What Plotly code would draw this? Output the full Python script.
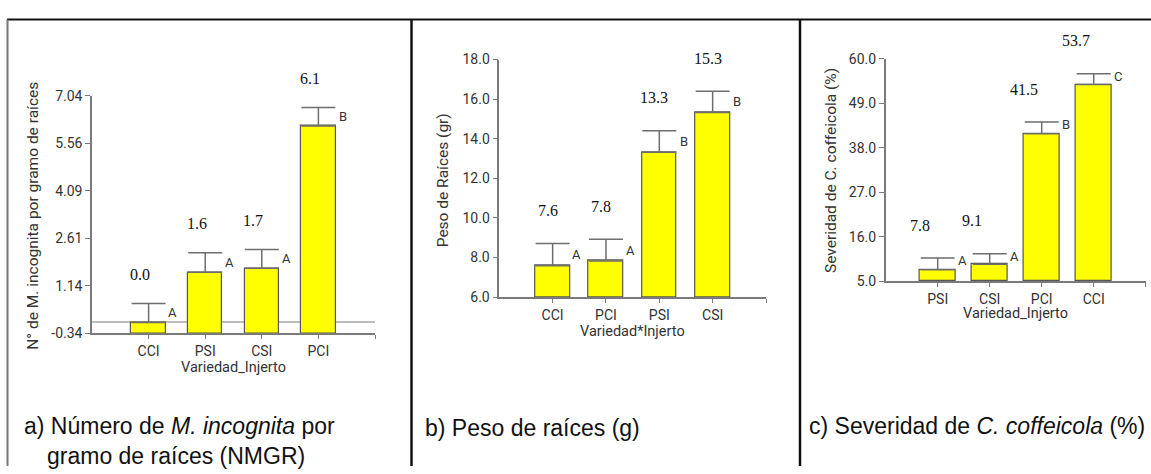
import plotly.graph_objects as go

W, H = 1151, 474

# ---------------- data ----------------
# Panel a: N° de M. incognita por gramo de raíces
cats_a = ["CCI", "PSI", "CSI", "PCI"]
vals_a = [0.0, 1.56, 1.68, 6.10]
errs_a = [0.59, 0.60, 0.58, 0.57]
letters_a = ["A", "A", "A", "B"]
labels_a = ["0.0", "1.6", "1.7", "6.1"]
yticks_a = [-0.34, 1.14, 2.61, 4.09, 5.56, 7.04]
yticktext_a = ["-0.34", "1.14", "2.61", "4.09", "5.56", "7.04"]

# Panel b: Peso de raíces (gr)
cats_b = ["CCI", "PCI", "PSI", "CSI"]
vals_b = [7.59, 7.83, 13.32, 15.32]
errs_b = [1.12, 1.10, 1.08, 1.08]
letters_b = ["A", "A", "B", "B"]
labels_b = ["7.6", "7.8", "13.3", "15.3"]
yticks_b = [6.0, 8.0, 10.0, 12.0, 14.0, 16.0, 18.0]
yticktext_b = ["6.0", "8.0", "10.0", "12.0", "14.0", "16.0", "18.0"]

# Panel c: Severidad de C. coffeicola (%)
cats_c = ["PSI", "CSI", "PCI", "CCI"]
vals_c = [7.8, 9.16, 41.46, 53.66]
errs_c = [2.9, 2.6, 2.9, 2.7]
letters_c = ["A", "A", "B", "C"]
labels_c = ["7.8", "9.1", "41.5", "53.7"]
yticks_c = [5.0, 16.0, 27.0, 38.0, 49.0, 60.0]
yticktext_c = ["5.0", "16.0", "27.0", "38.0", "49.0", "60.0"]

captions = {
    "a": "a) Número de <i>M. incognita</i> por<br>\u2002\u2002gramo de raíces (NMGR)",
    "b": "b) Peso de raíces (g)",
    "c": "c) Severidad de <i>C. coffeicola</i> (%)",
}

# ---------------- helpers ----------------
def px(x):
    return x / W

def py(y):
    return 1 - y / H

AX_COL = "#7a7a7a"
TXT_COL = "#333333"
SANS = "Roboto, Arial, sans-serif"
SERIF = "Liberation Serif, Times New Roman, serif"
CAP = "Liberation Sans, Arial, sans-serif"

panels = [
    dict(cats=cats_a, vals=vals_a, errs=errs_a, letters=letters_a, labels=labels_a,
         yt=yticks_a, ytt=yticktext_a, xdom=(92, 375), ydom=(90.7, 336.7),
         width=0.61, lab_dx=-8.5, lab_dy=29, letter_mode="mid", zero=True,
         ytitle="N° de M. incognita por gramo de raíces", ytpos=(33, 215),
         xtitle="Variedad_Injerto", xtpos=(233, 372)),
    dict(cats=cats_b, vals=vals_b, errs=errs_b, letters=letters_b, labels=labels_b,
         yt=yticks_b, ytt=yticktext_b, xdom=(499.3, 766), ydom=(53.3, 299.3),
         width=0.65, lab_dx=-5, lab_dy=33, letter_mode="mid", zero=False,
         ytitle="Peso de Raíces (gr)", ytpos=(443.3, 178),
         xtitle="Variedad*Injerto", xtpos=(632, 335)),
    dict(cats=cats_c, vals=vals_c, errs=errs_c, letters=letters_c, labels=labels_c,
         yt=yticks_c, ytt=yticktext_c, xdom=(885.7, 1145.7), ydom=(52.7, 282.7),
         width=0.68, lab_dx=-18, lab_dy=33, letter_mode="cap", zero=False,
         ytitle="Severidad de C. coffeicola (%)", ytpos=(831.7, 168),
         xtitle="Variedad_Injerto", xtpos=(1015.7, 316)),
]

fig = go.Figure()
annotations = []
layout_axes = {}

for k, p in enumerate(panels, start=1):
    xa = "x" if k == 1 else f"x{k}"
    ya = "y" if k == 1 else f"y{k}"
    ymin, ymax = p["yt"][0], p["yt"][-1]
    idx = list(range(len(p["cats"])))
    fig.add_trace(go.Bar(
        x=idx, y=[v - ymin for v in p["vals"]], base=ymin,
        width=p["width"], xaxis=xa, yaxis=ya,
        marker=dict(color="#ffff00", line=dict(color="#555555", width=1.2)),
        error_y=dict(type="data", symmetric=False, array=p["errs"],
                     arrayminus=[0] * len(p["errs"]),
                     color="#6e6e6e", thickness=1.5, width=17),
        showlegend=False, hoverinfo="skip",
    ))
    layout_axes["xaxis" if k == 1 else f"xaxis{k}"] = dict(
        domain=[px(p["xdom"][0]), px(p["xdom"][1])], anchor=ya,
        range=[-1, 4], tickvals=idx + [4], ticktext=p["cats"] + [""],
        showline=True, linecolor=AX_COL, linewidth=1.5,
        ticks="outside", ticklen=4, tickcolor=AX_COL, tickwidth=1.2,
        tickfont=dict(family=SANS, size=14, color=TXT_COL),
        showgrid=False, zeroline=False, fixedrange=True,
    )
    layout_axes["yaxis" if k == 1 else f"yaxis{k}"] = dict(
        domain=[py(p["ydom"][1]), py(p["ydom"][0])], anchor=xa,
        range=[ymin, ymax], tickvals=p["yt"], ticktext=p["ytt"],
        showline=True, linecolor=AX_COL, linewidth=1.5,
        ticks="outside", ticklen=5, tickcolor=AX_COL, tickwidth=1.2,
        tickfont=dict(family=SANS, size=14, color=TXT_COL),
        showgrid=False, zeroline=p["zero"], zerolinecolor="#bdbdbd", zerolinewidth=1.5,
        fixedrange=True,
    )
    # value labels (serif) and significance letters
    for i, (v, e, lab, let) in enumerate(zip(p["vals"], p["errs"], p["labels"], p["letters"])):
        annotations.append(dict(
            x=i, y=v + e, xref=xa, yref=ya, text=lab, showarrow=False,
            xshift=p["lab_dx"], yshift=p["lab_dy"], xanchor="center", yanchor="middle",
            font=dict(family=SERIF, size=16, color="#111111"),
        ))
        if p["letter_mode"] == "mid":
            ly, lsh = v + e / 2, 0
        else:
            ly, lsh = v + e, -2.5
        annotations.append(dict(
            x=i + p["width"] / 2, y=ly, xref=xa, yref=ya, text=let, showarrow=False,
            xshift=7, yshift=lsh, xanchor="center", yanchor="middle",
            font=dict(family=SANS, size=13, color=TXT_COL),
        ))
    # axis titles
    annotations.append(dict(
        x=px(p["ytpos"][0]), y=py(p["ytpos"][1]), xref="paper", yref="paper",
        text=p["ytitle"], textangle=-90, showarrow=False,
        xanchor="center", yanchor="middle",
        font=dict(family=SANS, size=15.5, color=TXT_COL),
    ))
    annotations.append(dict(
        x=px(p["xtpos"][0]), y=py(p["xtpos"][1]), xref="paper", yref="paper",
        text=p["xtitle"], showarrow=False, xanchor="center", yanchor="middle",
        font=dict(family=SANS, size=14.5, color=TXT_COL),
    ))

# captions
cap_font = dict(family=CAP, size=23, color="#111111")
for key, (cx, cy) in {"a": (21.7, 448.4), "b": (423.3, 435), "c": (806.7, 433)}.items():
    annotations.append(dict(
        x=px(cx), y=py(cy), xref="paper", yref="paper", text=captions[key],
        showarrow=False, xanchor="left", yanchor="middle", align="left", font=cap_font,
    ))

# table borders
shapes = [
    dict(type="line", xref="paper", yref="paper", x0=px(7), x1=1, y0=py(12), y1=py(12),
         line=dict(color="#111111", width=2)),
    dict(type="line", xref="paper", yref="paper", x0=px(7.5), x1=px(7.5), y0=py(12), y1=0,
         line=dict(color="#777777", width=2)),
    dict(type="line", xref="paper", yref="paper", x0=px(411.5), x1=px(411.5), y0=py(12), y1=0,
         line=dict(color="#111111", width=2.5)),
    dict(type="line", xref="paper", yref="paper", x0=px(800), x1=px(800), y0=py(12), y1=0,
         line=dict(color="#111111", width=2.5)),
]

fig.update_layout(
    width=W, height=H, margin=dict(l=0, r=0, t=0, b=0),
    paper_bgcolor="white", plot_bgcolor="white",
    annotations=annotations, shapes=shapes, bargap=0,
    **layout_axes,
)

fig.write_html("out.html", config={"displayModeBar": False})
